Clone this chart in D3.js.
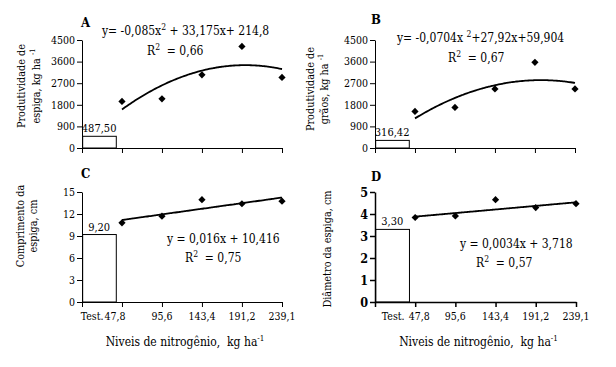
<!DOCTYPE html>
<html><head><meta charset="utf-8">
<script src="https://cdn.jsdelivr.net/npm/d3@7"></script>
<style>
body{margin:0;background:#fff;}
svg text{font-family:"DejaVu Serif Condensed","DejaVu Serif",serif;font-stretch:condensed;white-space:pre;}
</style></head>
<body><svg id="c" width="616" height="367"></svg>
<script>
// ---- data ----
const nitrogenLevels = [47.8, 95.6, 143.4, 191.2, 239.1];
const xTickLabels = ["47,8", "95,6", "143,4", "191,2", "239,1"];
const testLabel = "Test.";
const yieldEar = [1940, 2050, 3050, 4230, 2940];      // A
const yieldGrain = [1525, 1690, 2460, 3570, 2460];    // B
const earLength = [10.8, 11.7, 13.95, 13.4, 13.75];   // C
const earDiameter = [3.84, 3.91, 4.65, 4.29, 4.47];   // D
const testValues = [487.5, 316.42, 9.2, 3.3];
const testValueLabels = ["487,50", "316,42", "9,20", "3,30"];
const trendA = [-0.085, 33.175, 214.8];   // ax^2 + bx + c
const trendB = [-0.0704, 27.92, 59.904];
const trendC = [0, 0.016, 10.416];
const trendD = [0, 0.0034, 3.718];
const yTicksAB = [0, 900, 1800, 2700, 3600, 4500];
const yTicksC = [0, 3, 6, 9, 12, 15];
const yTicksD = [0, 1, 2, 3, 4, 5];
const letters = ["A", "B", "C", "D"];
const eqTexts = [
  ["y= -0,085x", "2", " + 33,175x+ 214,8"],
  ["y= -0,0704x ", "2", "+27,92x+59,904"],
  ["y = 0,016x + 10,416", "", ""],
  ["y = 0,0034x + 3,718", "", ""]
];
const r2Texts = ["0,66", "0,67", "0,75", "0,57"];
const yTitles = [
  [["Produtividade de"], ["espiga, kg ha ", "-1"]],
  [["Produtividade de"], ["grãos, kg ha ", "-1"]],
  [["Comprimento da"], ["espiga, cm"]],
  [["Diâmetro da espiga, cm"]]
];
const xTitle = ["Niveis de nitrogênio,  kg ha", "-1"];

// ---- layout ----
const panels = [
  {vals: yieldEar, trend: trendA, ticks: yTicksAB, x0: 82, x1: 282, yTop: 40, yBot: 148, xlab: false,
   letter: [81, 27], eq: [102, 35], r2: [147, 55], ytl: [[21], [36]], ytlY: 86, tickBold: false,
   lblDx: [0, 0]},
  {vals: yieldGrain, trend: trendB, ticks: yTicksAB, x0: 375, x1: 575, yTop: 40, yBot: 148, xlab: false,
   letter: [371, 24], eq: [397, 42], r2: [448, 62], ytl: [[310], [324]], ytlY: 89, tickBold: false,
   lblDx: [0, 0]},
  {vals: earLength, trend: trendC, ticks: yTicksC, x0: 82, x1: 282, yTop: 192, yBot: 302, xlab: true,
   letter: [81, 178], eq: [167, 243], r2: [185, 262], ytl: [[20], [33]], ytlY: 226, tickBold: false,
   lblDx: [-7, -7]},
  {vals: earDiameter, trend: trendD, ticks: yTicksD, x0: 375, x1: 576, yTop: 192, yBot: 302, xlab: true,
   letter: [371, 181], eq: [460, 248], r2: [476, 267], ytl: [[327]], ytlY: 249, tickBold: true,
   lblDx: [1, 4]}
];

const svg = d3.select("#c");
svg.append("rect").attr("width", 616).attr("height", 367).attr("fill", "#fff");

panels.forEach((p, i) => {
  const x = d3.scaleLinear().domain([0, 239.1]).range([p.x0, p.x1]);
  const y = d3.scaleLinear().domain([0, d3.max(p.ticks)]).range([p.yBot, p.yTop]);
  const g = svg.append("g");

  // test bar
  g.append("rect")
    .attr("x", x(0.8)).attr("width", x(41) - x(0.8))
    .attr("y", y(testValues[i])).attr("height", y(0) - y(testValues[i]))
    .attr("fill", "#fff").attr("stroke", "#000").attr("stroke-width", 1);
  g.append("text").attr("x", x(20.5)).attr("y", y(testValues[i]) - 4)
    .attr("text-anchor", "middle").attr("font-size", 11).text(testValueLabels[i]);

  // y axis
  const ya = d3.axisLeft(y).tickValues(p.ticks).tickSize(5).tickSizeOuter(0).tickPadding(2)
    .tickFormat(d3.format("d"));
  const yg = g.append("g").attr("transform", `translate(${p.x0},0)`).call(ya);
  yg.selectAll("text").attr("font-size", p.tickBold ? 12.5 : 10.5)
    .attr("font-weight", p.tickBold ? "bold" : "normal");
  yg.selectAll("line,path").attr("stroke", "#000").attr("stroke-width", p.tickBold ? 1.5 : 1);

  // x axis
  const xa = d3.axisBottom(x).tickValues([0].concat(nitrogenLevels)).tickSize(5).tickSizeOuter(0)
    .tickFormat(() => "");
  const xg = g.append("g").attr("transform", `translate(0,${p.yBot})`).call(xa);
  xg.selectAll("line,path").attr("stroke", "#000").attr("stroke-width", p.tickBold ? 1.5 : 1);
  if (p.xlab) {
    nitrogenLevels.forEach((v, k) => {
      g.append("text").attr("x", x(v) + (k === 0 ? p.lblDx[1] : 0)).attr("y", p.yBot + 18)
        .attr("text-anchor", "middle").attr("font-size", 10.5).text(xTickLabels[k]);
    });
    g.append("text").attr("x", x(20.5) + p.lblDx[0]).attr("y", p.yBot + 18)
      .attr("text-anchor", "middle").attr("font-size", 10.5).text(testLabel);
    const xt = g.append("text").attr("x", (p.x0 + p.x1) / 2 + 3).attr("y", p.yBot + 44)
      .attr("text-anchor", "middle").attr("font-size", 12);
    xt.append("tspan").text(xTitle[0]);
    xt.append("tspan").attr("font-size", 8).attr("dy", -5).text(xTitle[1]);
  }

  // trend line
  const tr = p.trend;
  const f = v => tr[0] * v * v + tr[1] * v + tr[2];
  const xs = d3.range(47.8, 239.1, 2).concat([239.1]);
  g.append("path").datum(xs)
    .attr("d", d3.line().x(v => x(v)).y(v => y(f(v))).curve(d3.curveMonotoneX))
    .attr("fill", "none").attr("stroke", "#000").attr("stroke-width", 1.8);

  // points
  g.selectAll(".pt").data(p.vals).join("path")
    .attr("d", d3.symbol(d3.symbolSquare, 26))
    .attr("transform", (d, k) => `translate(${x(nitrogenLevels[k])},${y(d)}) rotate(45)`)
    .attr("fill", "#000");

  // letter
  g.append("text").attr("x", p.letter[0]).attr("y", p.letter[1])
    .attr("font-size", 13).attr("font-weight", "bold").text(letters[i]);

  // equation
  const eq = g.append("text").attr("x", p.eq[0]).attr("y", p.eq[1]).attr("font-size", 12);
  eq.append("tspan").text(eqTexts[i][0]);
  if (eqTexts[i][1]) {
    eq.append("tspan").attr("font-size", 8.5).attr("dy", -5).text(eqTexts[i][1]);
    eq.append("tspan").attr("dy", 5).text(eqTexts[i][2]);
  }
  const r2 = g.append("text").attr("x", p.r2[0]).attr("y", p.r2[1]).attr("font-size", 12);
  r2.append("tspan").text("R");
  r2.append("tspan").attr("font-size", 8.5).attr("dy", -5).text("2");
  r2.append("tspan").attr("dy", 5).text("  = " + r2Texts[i]);

  // y title
  yTitles[i].forEach((line, li) => {
    const t = g.append("text")
      .attr("transform", `translate(${p.ytl[li][0]},${p.ytlY}) rotate(-90)`)
      .attr("text-anchor", "middle").attr("dominant-baseline", "central")
      .attr("font-size", 10.8);
    t.append("tspan").text(line[0]);
    if (line[1]) t.append("tspan").attr("font-size", 7.5).attr("dy", -4).text(line[1]);
  });
});
</script></body></html>
